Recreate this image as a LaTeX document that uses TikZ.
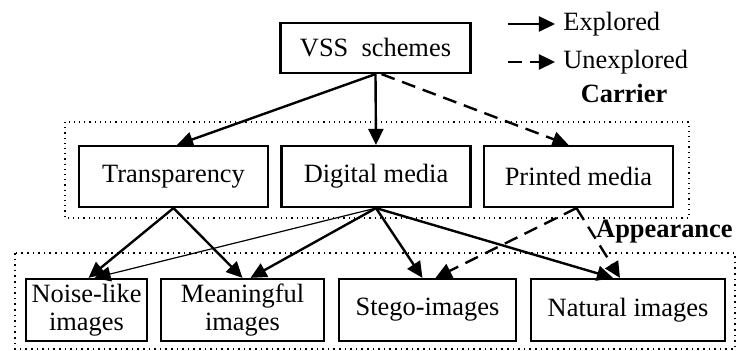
\documentclass[tikz,border=0pt]{standalone}
\usepackage{fontspec}
\setmainfont{Liberation Serif}
\usetikzlibrary{arrows.meta}

\begin{document}
\begin{tikzpicture}[x=0.5pt,y=-0.5pt,
  box/.style={draw, line width=1.1pt, inner sep=0pt, align=center,
    font=\fontsize{13.2}{14}\selectfont},
  lbl/.style={inner sep=4pt, font=\fontsize{13.2}{14}\selectfont},
  arr/.style={line width=1.2pt, -{Triangle[length=8pt,width=7.5pt]}},
  thinarr/.style={line width=0.6pt, -{Triangle[length=8pt,width=7.5pt]}},
  unexp/.style={arr, dash pattern=on 7pt off 4pt}]

\useasboundingbox (0,0) rectangle (736,351);

% the two groups
\draw [dotted, line width=0.6pt] (65,122) rectangle (689,218);
\draw [dotted, line width=0.8pt] (15,253) rectangle (735,349);

\node [box, minimum width=95pt, minimum height=25pt] (vss) at (375.5,48) {VSS\ \ schemes};

\node [box, minimum width=94.5pt, minimum height=30.5pt] (trans) at (173.5,176.5) {Transparency};
\node [box, minimum width=94.5pt, minimum height=30.5pt] (dig) at (376,176.5) {Digital media};
\node [box, minimum width=94.5pt, minimum height=30.5pt] (prt) at (578.5,176.5) {Printed media};

\node [box, minimum width=60.5pt, minimum height=31pt] (noise) at (86.5,310) {Noise-like\\images};
\node [box, minimum width=81.5pt, minimum height=31pt] (mean) at (242.5,310) {Meaningful\\images};
\node [box, minimum width=88.5pt, minimum height=31pt] (stego) at (427.5,310) {Stego-images};
\node [box, minimum width=97pt, minimum height=31pt] (nat) at (628,310) {Natural images};

% legend
\node [lbl, anchor=west] (expl) at (555,24) {Explored};
\node [lbl, anchor=west] (unexpl) at (555,62) {Unexplored};
\coordinate (e0) at (508,24);
\coordinate (u0) at (508,62);
\draw [arr] (e0) -- (expl.west);
\draw [unexp] (u0) -- (unexpl.west);

\node [lbl, font=\fontsize{13.2}{14}\selectfont\bfseries] (carrier) at (624,93) {Carrier};
\node [lbl, inner sep=1.5pt, anchor=east, font=\fontsize{13.2}{14}\selectfont\bfseries] (appear) at (736,232) {Appearance};

% carriers
\draw [arr] (vss.south) -- ([xshift=1.75pt]trans.north);
\draw [arr] (vss.south) -- (dig.north);
\draw [unexp] ([xshift=3pt]vss.south) -- ([xshift=-5pt]prt.north);

% appearances
\draw [arr] (trans.south) -- ([xshift=1pt]noise.north);
\draw [arr] (trans.south) -- (mean.north);
\draw [thinarr] (dig.south) -- ([xshift=4pt]noise.north);
\draw [arr] (dig.south) -- ([xshift=4pt]mean.north);
\draw [arr] (dig.south) -- ([xshift=-2.5pt]stego.north);
\draw [arr] (dig.south) -- ([xshift=-7.5pt]nat.north);
\draw [unexp] ([xshift=-1pt]prt.south) -- ([xshift=4pt]stego.north);
\draw [unexp] ([xshift=-1pt]prt.south) -- ([xshift=-4pt]nat.north);

\end{tikzpicture}
\end{document}
